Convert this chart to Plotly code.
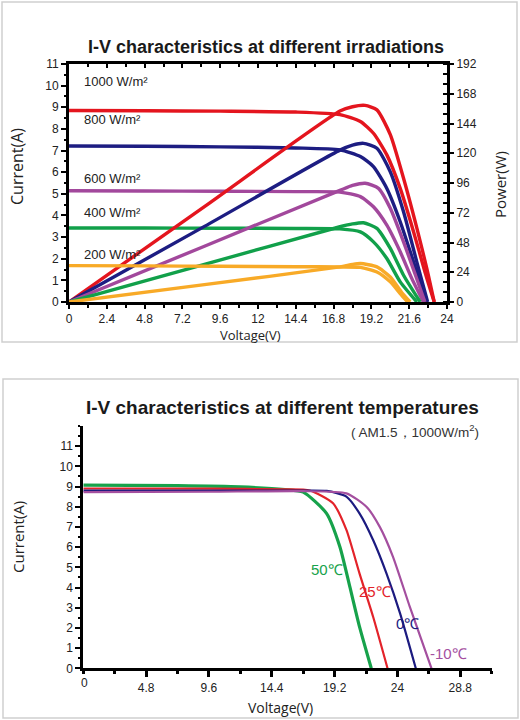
import plotly.graph_objects as go

W, H = 520, 720

# ---- top chart: I-V and P-V at different irradiations ----
irr_labels = ["1000 W/m²", "800 W/m²", "600 W/m²", "400 W/m²", "200 W/m²"]
irr_label_y = [10.2, 8.42, 5.69, 4.12, 2.2]
irr_colors = ["#e4151e", "#1d1d82", "#a2489c", "#11a04a", "#f8aa27"]

iv_v = [
    [0, 4.8, 9.6, 14.4, 17.2, 18.5, 19.33, 20.18, 21.03, 21.88, 22.6, 23.19],
    [0, 4.8, 9.6, 14.4, 17.2, 18.5, 19.33, 20.18, 21.03, 21.88, 22.72],
    [0, 4.8, 9.6, 14.4, 17.2, 18.5, 19.33, 20.18, 21.03, 21.77, 22.5],
    [0, 4.8, 9.6, 14.4, 17.2, 18.5, 19.33, 20.18, 21.03, 22.09],
    [0, 4.8, 9.6, 14.4, 17.2, 18.5, 19.55, 20.4, 21.03, 21.5],
]
iv_i = [
    [8.85, 8.84, 8.82, 8.78, 8.66, 8.34, 7.8, 6.8, 5.25, 3.24, 1.39, 0],
    [7.21, 7.2, 7.17, 7.12, 7.03, 6.72, 6.26, 5.25, 3.71, 1.85, 0],
    [5.14, 5.13, 5.12, 5.1, 5.08, 4.87, 4.4, 3.55, 2.32, 1.08, 0],
    [3.42, 3.42, 3.41, 3.4, 3.38, 3.24, 2.78, 2.01, 0.93, 0],
    [1.68, 1.67, 1.65, 1.63, 1.62, 1.6, 1.39, 0.93, 0.39, 0],
]

pv_v = [
    [0, 8.6, 17.2, 18.0, 18.8, 19.55, 20.4, 21.24, 22.09, 22.72, 23.19],
    [0, 8.6, 17.2, 18.0, 18.7, 19.55, 20.4, 21.24, 22.09, 22.77],
    [0, 8.6, 17.2, 18.0, 18.8, 19.65, 20.4, 21.24, 22.0, 22.6],
    [0, 8.6, 17.2, 18.0, 18.7, 19.55, 20.4, 21.24, 22.3],
    [0, 8.6, 17.2, 18.0, 18.5, 19.55, 20.4, 21.1, 21.66],
]
pv_p = [
    [0, 77, 154, 157.5, 158.6, 155, 135, 99.8, 59.4, 27, 0],
    [0, 61, 122.5, 126.5, 128, 124, 105, 72.8, 32, 0],
    [0, 45, 90, 94, 95.8, 91.7, 75.6, 48.5, 21.6, 0],
    [0, 30.3, 60.7, 63, 63.9, 59.4, 43.2, 21.6, 0],
    [0, 14, 28.3, 30.3, 31, 28.3, 20.2, 8.1, 0],
]

top_x_ticks = [0, 2.4, 4.8, 7.2, 9.6, 12, 14.4, 16.8, 19.2, 21.6, 24]
top_y_ticks = list(range(0, 12))
power_ticks = [0, 24, 48, 72, 96, 120, 144, 168, 192]

# ---- bottom chart: I-V at different temperatures ----
temp_labels = ["50℃", "25℃", "0℃", "-10℃"]
temp_colors = ["#17a24b", "#e3232a", "#1c1b80", "#a44f9f"]
temp_widths = [3.2, 2.2, 2.2, 2.2]
temp_label_pos = [(18.6, 4.9), (22.3, 3.8), (24.8, 2.2), (27.9, 0.75)]

t_v = [
    [0, 7.2, 12, 15.4, 16.8, 18.58, 19.6, 20.36, 21.1, 22.0],
    [0, 9.6, 15.4, 17.3, 19.08, 20.1, 21.1, 22.14, 23.24],
    [0, 9.6, 16.8, 18.6, 20.1, 21.1, 22.14, 23.16, 24.2, 25.4],
    [0, 9.6, 16.8, 20.1, 21.63, 22.65, 23.66, 24.94, 26.6],
]
t_i = [
    [9.07, 9.04, 8.98, 8.85, 8.72, 7.67, 6.02, 4.04, 2.06, 0],
    [8.9, 8.89, 8.86, 8.8, 8.17, 6.85, 4.7, 2.55, 0],
    [8.8, 8.8, 8.8, 8.78, 8.5, 7.67, 6.35, 4.7, 2.72, 0],
    [8.72, 8.74, 8.77, 8.66, 8.0, 7.0, 5.52, 3.05, 0],
]

bot_x_ticks = [4.8, 9.6, 14.4, 19.2, 24, 28.8]
bot_y_ticks = list(range(0, 12))


def px(x):
    return x / W


def py(y):
    return 1 - y / H


fig = go.Figure()

for k in range(5):
    fig.add_trace(go.Scatter(
        x=iv_v[k], y=iv_i[k], mode="lines",
        line=dict(color=irr_colors[k], width=3.4, shape="spline", smoothing=0.6),
        xaxis="x3" if k == 4 else "x", yaxis="y", showlegend=False, hoverinfo="skip"))
    fig.add_trace(go.Scatter(
        x=pv_v[k], y=pv_p[k], mode="lines",
        line=dict(color=irr_colors[k], width=3.4, shape="spline", smoothing=0.6),
        xaxis="x", yaxis="y2", showlegend=False, hoverinfo="skip"))

for k in range(4):
    fig.add_trace(go.Scatter(
        x=t_v[k], y=t_i[k], mode="lines",
        line=dict(color=temp_colors[k], width=temp_widths[k], shape="spline", smoothing=0.6),
        xaxis="x2", yaxis="y3", showlegend=False, hoverinfo="skip"))

tickfont = dict(family="Liberation Sans, Arial", size=12, color="#222")
top_xd = [px(69), px(447)]
top_yd = [py(302), py(64)]
bot_xd = [px(83.3), px(491.7)]
bot_yd = [py(668.3), py(425.9)]

fig.update_layout(
    width=W, height=H,
    margin=dict(l=0, r=0, t=0, b=0),
    paper_bgcolor="white", plot_bgcolor="white",
    xaxis=dict(domain=top_xd, range=[0, 24], tickvals=top_x_ticks,
               ticktext=[str(t) for t in top_x_ticks], tickfont=tickfont,
               showline=True, linecolor="black", linewidth=3, mirror=True,
               ticks="outside", ticklen=4, tickwidth=2, tickcolor="black",
               minor=dict(dtick=1.2, ticks="outside", ticklen=3, tickwidth=2, tickcolor="black"),
               showgrid=False, zeroline=False, anchor="y", automargin=False),
    xaxis3=dict(domain=top_xd, range=[0, 24], overlaying="x", side="top", anchor="y",
                tickvals=top_x_ticks, showticklabels=False, showline=False,
                ticks="inside", ticklen=4, tickwidth=2, tickcolor="black",
                minor=dict(dtick=1.2, ticks="inside", ticklen=3, tickwidth=2, tickcolor="black"),
                showgrid=False, zeroline=False, automargin=False),
    yaxis=dict(domain=top_yd, range=[0, 11], tickvals=top_y_ticks, tickfont=tickfont,
               showline=True, linecolor="black", linewidth=3,
               ticks="outside", ticklen=5, tickwidth=2, tickcolor="black",
               minor=dict(dtick=0.5, ticks="outside", ticklen=2, tickwidth=2, tickcolor="black"),
               showgrid=False, zeroline=False, anchor="x", automargin=False),
    yaxis2=dict(domain=top_yd, range=[0, 192], tickvals=power_ticks, tickfont=tickfont,
                overlaying="y", side="right", anchor="x",
                showline=True, linecolor="black", linewidth=3,
                ticks="outside", ticklen=4, tickwidth=2, tickcolor="black",
                minor=dict(dtick=8, ticks="inside", ticklen=4, tickwidth=2, tickcolor="black"),
                showgrid=False, zeroline=False, automargin=False),
    xaxis2=dict(domain=bot_xd, range=[0, 31.2], tickvals=bot_x_ticks,
                ticktext=[str(t) for t in bot_x_ticks], tickfont=tickfont,
                showline=True, linecolor="black", linewidth=3,
                ticks="outside", ticklen=6, tickwidth=3, tickcolor="black",
                minor=dict(dtick=2.4, ticks="outside", ticklen=3, tickwidth=3, tickcolor="black"),
                showgrid=False, zeroline=False, anchor="y3", automargin=False),
    yaxis3=dict(domain=bot_yd, range=[0, 12], tickvals=bot_y_ticks, tickfont=tickfont,
                showline=True, linecolor="black", linewidth=3,
                ticks="outside", ticklen=5, tickwidth=2, tickcolor="black",
                minor=dict(dtick=0.5, ticks="outside", ticklen=2, tickwidth=2, tickcolor="black"),
                showgrid=False, zeroline=False, anchor="x2", automargin=False),
)

# panel frames
for y0, y1, x0, x1 in [(2, 342, 2, 517), (379, 718, 3, 518)]:
    fig.add_shape(type="rect", xref="paper", yref="paper",
                  x0=px(x0), x1=px(x1), y0=py(y1), y1=py(y0),
                  line=dict(color="#cfcfcf", width=1.5), layer="below")

title_font = dict(family="Liberation Sans, Arial", color="#1a1a1a")
sans = "Open Sans, Noto Sans"

ann = [
    dict(text="<b>I-V characteristics at different irradiations</b>", x=px(266), y=py(47),
         font=dict(size=18, **title_font)),
    dict(text="<b>I-V characteristics at different temperatures</b>", x=px(282), y=py(407),
         font=dict(size=19, **title_font)),
    dict(text="( AM1.5，1000W/m<sup>2</sup>)", x=px(481), y=py(431), xanchor="right",
         font=dict(family="Liberation Sans, Arial", size=13.5, color="#333")),
    dict(text="Current(A)", x=px(17), y=py(167), textangle=-90,
         font=dict(family=sans, size=16, color="#222")),
    dict(text="Power(W)", x=px(500), y=py(185), textangle=-90,
         font=dict(family=sans, size=15, color="#222")),
    dict(text="Voltage(V)", x=px(250), y=py(335),
         font=dict(family=sans, size=13, color="#222")),
    dict(text="Current(A)", x=px(18), y=py(537), textangle=-90,
         font=dict(family=sans, size=15, color="#222")),
    dict(text="Voltage(V)", x=px(280), y=py(707),
         font=dict(family=sans, size=14, color="#222")),
    dict(text="0", x=px(84), y=py(683), font=tickfont),
]
for a in ann:
    a.setdefault("xanchor", "center")
    fig.add_annotation(xref="paper", yref="paper", showarrow=False, yanchor="middle", **a)

for lab, yv in zip(irr_labels, irr_label_y):
    fig.add_annotation(text=lab, x=0.83, y=yv, xref="x", yref="y", showarrow=False,
                       xanchor="left", yanchor="middle",
                       font=dict(family="Liberation Sans, Arial", size=13, color="#222"))

for lab, (xv, yv), col in zip(temp_labels, temp_label_pos, temp_colors):
    fig.add_annotation(text=lab, x=xv, y=yv, xref="x2", yref="y3", showarrow=False,
                       xanchor="center", yanchor="middle",
                       font=dict(family="Liberation Sans, Arial", size=15, color=col))

fig.write_html("out.html", config={"displayModeBar": False},
               post_script="document.body.style.margin='0';")
